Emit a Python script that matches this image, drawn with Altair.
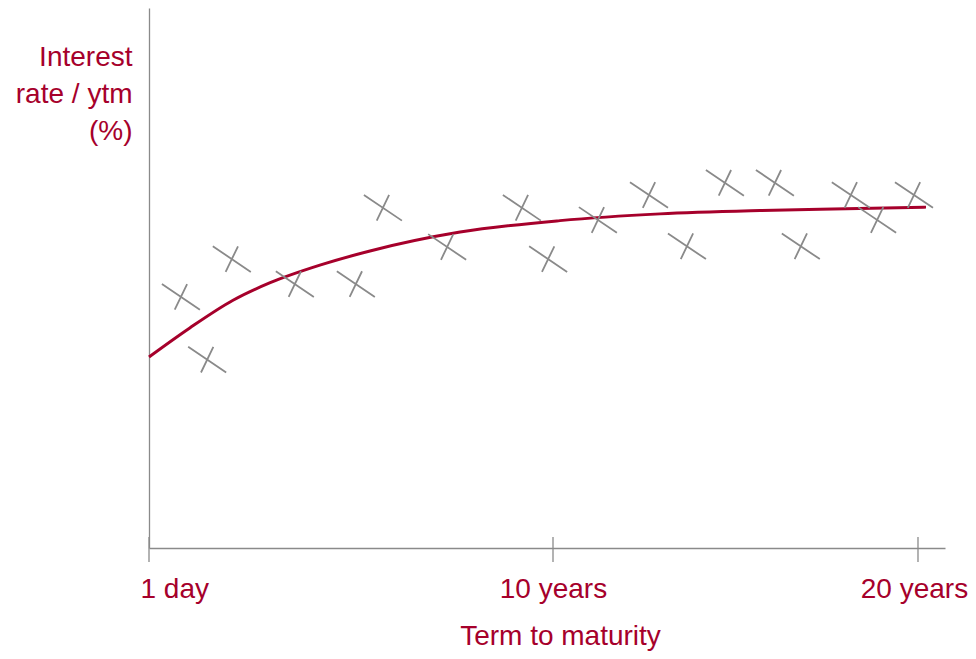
import altair as alt
import pandas as pd

# ---- data ----
tick_years = [0, 10, 20]
tick_labels = ["1 day", "10 years", "20 years"]

obs_years = [0.79, 1.44, 2.05, 3.61, 5.12, 5.79, 7.38, 9.23, 9.88,
             11.23, 12.63, 13.67, 14.71, 16.08, 16.79, 18.16, 18.88, 19.89]
obs_rates = [3.72, 2.79, 4.28, 3.91, 3.91, 5.04, 4.46, 5.04, 4.28,
             4.86, 5.23, 4.47, 5.41, 5.41, 4.47, 5.23, 4.86, 5.23]

curve_years = [0, 1.01, 2.08, 3.0, 4.23, 5.47, 7.70, 10.19, 12.93, 15.67, 17.32, 20.22]
curve_rates = [2.83, 3.26, 3.67, 3.93, 4.19, 4.40, 4.68, 4.85, 4.95, 5.00, 5.02, 5.05]

CRIMSON = "#A6002B"
GRAY = "#8A8A8A"
FONT = "Liberation Sans"

W, H = 796, 540

obs_df = pd.DataFrame({"years": obs_years, "rate": obs_rates})
curve_df = pd.DataFrame({"years": curve_years, "rate": curve_rates})
tick_df = pd.DataFrame({"years": tick_years, "label": tick_labels})

xscale = alt.Scale(domain=[0, 10, 20.74], range=[0, 404, 796], nice=False, zero=False)
yscale = alt.Scale(domain=[0, 8], nice=False, zero=False)

label_expr = "''"
for v, lab in zip(reversed(tick_years), reversed(tick_labels)):
    label_expr = f"datum.value == {v} ? '{lab}' : ({label_expr})"

x_axis = alt.Axis(
    values=tick_years, labelExpr=label_expr, ticks=False, tickSize=0, grid=False,
    domain=True, domainColor=GRAY, domainWidth=1.3,
    labelFont=FONT, labelFontSize=28, labelColor=CRIMSON, labelBaseline="alphabetic",
    labelPadding=49, labelFlush=1, labelFlushOffset=9, labelOverlap=False, labelBound=False,
    labelOffset={"condition": {"test": f"datum.value == {tick_years[-1]}", "value": -4}, "value": 0},
    title="Term to maturity", titleFont=FONT, titleFontSize=28, titleFontWeight="normal",
    titleColor=CRIMSON, titleX=411, titleY=96, titleBaseline="alphabetic", titleAlign="center",
)
y_axis = alt.Axis(
    ticks=False, tickSize=0, labels=False, grid=False,
    domain=True, domainColor=GRAY, domainWidth=1.3,
    title=["Interest", "rate / ytm", "(%)"], titleFont=FONT, titleFontSize=28,
    titleFontWeight="normal", titleColor=CRIMSON, titleAngle=0, titleAlign="right",
    titleBaseline="alphabetic", titleX=-17, titleY=57, titleLineHeight=37,
)

curve = alt.Chart(curve_df).mark_line(
    color=CRIMSON, strokeWidth=3, interpolate="monotone"
).encode(
    x=alt.X("years:Q", scale=xscale, axis=x_axis),
    y=alt.Y("rate:Q", scale=yscale, axis=y_axis),
)

cross = "M-1,-0.675L1,0.675M0.325,-0.675L-0.325,0.675"
points = alt.Chart(obs_df).mark_point(
    shape=cross, size=1444, filled=False, stroke=GRAY, strokeWidth=1.8, opacity=1
).encode(
    x=alt.X("years:Q", scale=xscale),
    y=alt.Y("rate:Q", scale=yscale),
)

ticks = alt.Chart(tick_df).mark_rule(color=GRAY, strokeWidth=1.3).encode(
    x=alt.X("years:Q", scale=xscale),
    y=alt.value(H - 11),
    y2=alt.value(H + 14),
)

chart = alt.layer(curve, ticks, points).properties(
    width=W, height=H,
    autosize=alt.AutoSizeParams(type="none"),
    padding={"left": 141, "top": 0, "right": 23, "bottom": 103},
).configure_view(stroke=None)

chart.save("out.html", embed_options={"renderer": "svg", "actions": False})
